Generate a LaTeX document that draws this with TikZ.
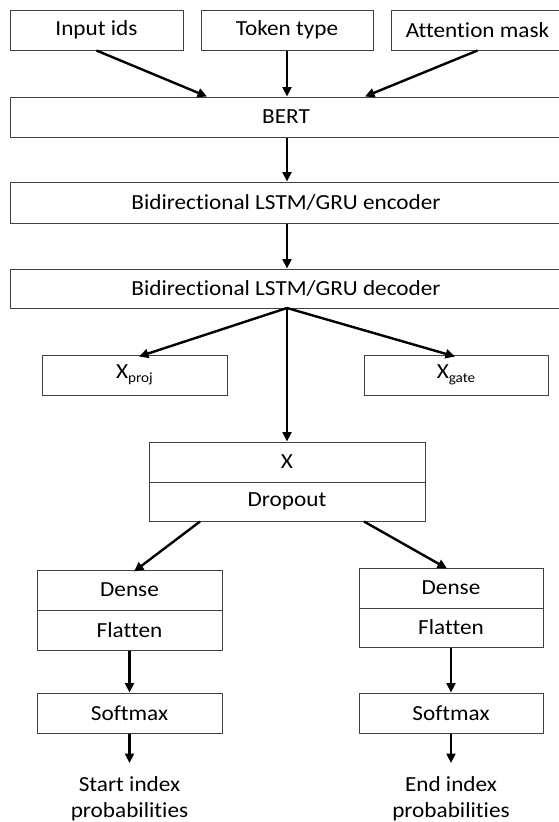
\documentclass[tikz,border=0pt]{standalone}
\usepackage{fontspec}
\setmainfont{Carlito}[FakeStretch=1.08,Ligatures=NoCommon]
\usetikzlibrary{arrows.meta}
\newcommand{\mysub}[1]{\raisebox{-0.35ex}{\fontsize{14}{14}\selectfont #1}}
\begin{document}
\begin{tikzpicture}[x=1pt,y=-1pt,
  box/.style={draw=black!75,line width=1pt,inner sep=0pt,minimum height=40pt,anchor=center,
    font=\fontsize{21.5}{24}\selectfont},
  arr/.style={line width=2.4pt,-{Triangle[length=9.5pt,width=9pt]}},
  lbl/.style={inner sep=0pt,anchor=base,font=\fontsize{21.5}{24}\selectfont}]
\useasboundingbox (0,0) rectangle (559,822);
% top inputs
\node[box,minimum width=173pt] (in) at (96.5,30) {Input ids};
\node[box,minimum width=172pt] (tok) at (287,30) {Token type};
\node[box,minimum width=173pt] (att) at (477.5,30) {Attention mask};
% stacked layers
\node[box,minimum width=552pt] (bert) at (286,117) {BERT};
\node[box,minimum width=552pt,minimum height=41pt] (enc) at (286,202.5) {Bidirectional LSTM/GRU encoder};
\node[box,minimum width=552pt,minimum height=39pt] (dec) at (286,288.5) {Bidirectional LSTM/GRU decoder};
% projections
\node[box,minimum width=185pt] (xproj) at (134.5,375) {X\mysub{proj}};
\node[box,minimum width=184pt] (xgate) at (456,375) {X\mysub{gate}};
% X / dropout
\node[box,minimum width=276pt] (x) at (287,462) {X};
\node[box,minimum width=276pt,minimum height=39pt] (drop) at (287,501.5) {Dropout};
% left head
\node[box,minimum width=185pt] (dl) at (129.5,590) {Dense};
\node[box,minimum width=185pt] (fl) at (129.5,630) {Flatten};
\node[box,minimum width=185pt] (sl) at (129.5,713) {Softmax};
% right head
\node[box,minimum width=184pt] (dr) at (451,588) {Dense};
\node[box,minimum width=184pt,minimum height=39pt] (fr) at (451,627.5) {Flatten};
\node[box,minimum width=184pt] (sr) at (451,713) {Softmax};
% outputs
\node[lbl] (ol1) at (129.5,791) {Start index};
\node[lbl] (ol2) at (129.5,817) {probabilities};
\node[lbl] (or1) at (451,791) {End index};
\node[lbl] (or2) at (451,817) {probabilities};
\coordinate (el) at (129.5,763);
\coordinate (er) at (451,763);
\coordinate (apex) at (287,308);
% connectors
\draw[arr] (in.south) -- ([xshift=-79pt]bert.north);
\draw[arr] (tok.south) -- (tok.south |- bert.north);
\draw[arr] (att.south) -- ([xshift=79pt]bert.north);
\draw[arr] (tok.south |- bert.south) -- (tok.south |- enc.north);
\draw[arr] (tok.south |- enc.south) -- (tok.south |- dec.north);
\draw[arr] (apex) -- ([xshift=4.5pt,yshift=-2pt]xproj.north);
\draw[arr] (apex) -- ([xshift=-1pt,yshift=-2pt]xgate.north);
\draw[arr] (apex) -- (x.north);
\draw[arr] ([xshift=-87pt]drop.south) -- ([xshift=4.5pt,yshift=-2pt]dl.north);
\draw[arr] ([xshift=77pt]drop.south) -- ([xshift=-4pt,yshift=-1pt]dr.north);
\draw[arr] (fl.south) -- (sl.north);
\draw[arr] (fr.south) -- (sr.north);
\draw[arr] (sl.south) -- (el);
\draw[arr] (sr.south) -- (er);
\end{tikzpicture}
\end{document}
